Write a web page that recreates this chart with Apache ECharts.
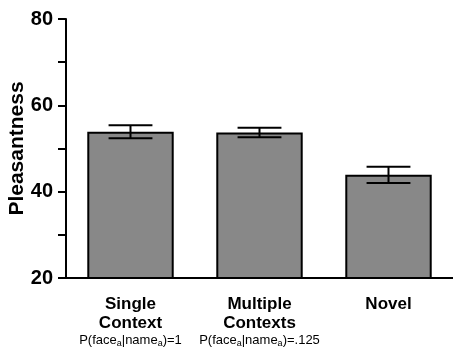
<!DOCTYPE html>
<html><head><meta charset="utf-8">
<script src="https://cdn.jsdelivr.net/npm/echarts@6/dist/echarts.min.js"></script>
<style>html,body{margin:0;padding:0;background:#fff}#c{width:453px;height:352px}</style>
</head><body><div id="c"></div>
<script>
const categories = ['Single Context', 'Multiple Contexts', 'Novel'];
const means = [53.9, 53.7, 43.9];
const errors = [1.5, 1.1, 1.9];
const yTickLabels = [20, 40, 60, 80];

const FONT = '"Liberation Sans", Arial, sans-serif';
const chart = echarts.init(document.getElementById('c'));

function catLabel(v) {
  if (v === 'Single Context') return '{b|Single}\n{b|Context}\n{s|P(face}{sub|a}{s||name}{sub|a}{s|)=1}';
  if (v === 'Multiple Contexts') return '{b|Multiple}\n{b|Contexts}\n{s|P(face}{sub|a}{s||name}{sub|a}{s|)=.125}';
  return '{b|' + v + '}';
}

chart.setOption({
  animation: false,
  backgroundColor: '#fff',
  grid: { left: 66, right: 0, top: 19, bottom: 74, containLabel: false, outerBoundsMode: 'none' },
  xAxis: {
    type: 'category',
    data: categories,
    axisLine: { lineStyle: { color: '#000', width: 2 } },
    axisTick: { alignWithLabel: true, length: 6, lineStyle: { color: '#000', width: 2 } },
    axisLabel: {
      interval: 0,
      hideOverlap: false,
      margin: 17,
      verticalAlign: 'top',
      formatter: catLabel,
      rich: {
        b: { fontFamily: FONT, fontWeight: 'bold', fontSize: 17, color: '#000', lineHeight: 19, align: 'center' },
        s: { fontFamily: FONT, fontSize: 13, color: '#000', lineHeight: 15 },
        sub: { fontFamily: FONT, fontSize: 9, color: '#000', lineHeight: 15, verticalAlign: 'bottom' }
      }
    }
  },
  yAxis: {
    type: 'value',
    min: 20, max: 80, interval: 10,
    name: 'Pleasantness',
    nameLocation: 'middle',
    nameGap: 38,
    nameMoveOverlap: false,
    nameTextStyle: { fontFamily: FONT, fontWeight: 'bold', fontSize: 21, color: '#000' },
    splitLine: { show: false },
    axisLine: { show: true, lineStyle: { color: '#000', width: 2 } },
    axisTick: { show: true, length: 8, lineStyle: { color: '#000', width: 2 } },
    axisLabel: {
      margin: 13,
      fontFamily: FONT, fontWeight: 'bold', fontSize: 20, color: '#000',
      formatter: v => (yTickLabels.indexOf(v) >= 0 ? String(v) : '')
    }
  },
  series: [
    {
      type: 'bar',
      data: means,
      barWidth: '67%',
      itemStyle: { color: '#888888', borderColor: '#000', borderWidth: 2 },
      z: 2
    },
    {
      type: 'custom',
      z: 3,
      data: means.map((m, i) => [i, m - errors[i], m + errors[i]]),
      renderItem: function (params, api) {
        const x = api.value(0);
        const lo = api.coord([x, api.value(1)]);
        const hi = api.coord([x, api.value(2)]);
        const half = api.size([1, 0])[0] * 0.17;
        const st = { stroke: '#000', lineWidth: 2 };
        return {
          type: 'group',
          children: [
            { type: 'line', shape: { x1: hi[0], y1: hi[1], x2: lo[0], y2: lo[1] }, style: st },
            { type: 'line', shape: { x1: hi[0] - half, y1: hi[1], x2: hi[0] + half, y2: hi[1] }, style: st },
            { type: 'line', shape: { x1: lo[0] - half, y1: lo[1], x2: lo[0] + half, y2: lo[1] }, style: st }
          ]
        };
      }
    }
  ]
});
</script></body></html>
